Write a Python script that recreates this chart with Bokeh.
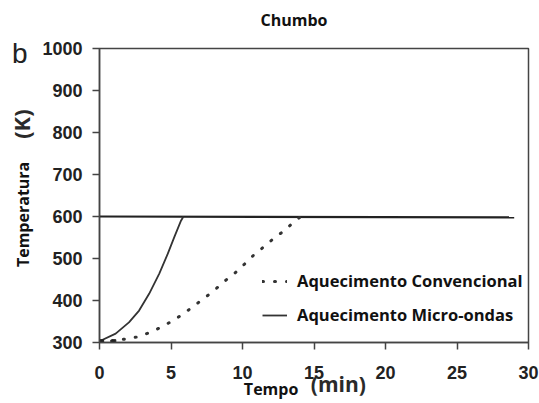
from bokeh.plotting import figure
from bokeh.models import Legend, LegendItem, FixedTicker, Range1d, LinearAxis
from bokeh.embed import file_html
from bokeh.resources import INLINE

# ---- data -------------------------------------------------------------
title = "Chumbo"
panel_tag = "b"
x_label = ["Tempo", "(min)"]
y_label = ["Temperatura", "(K)"]
series_names = ["Aquecimento Convencional", "Aquecimento Micro-ondas"]
x_ticks = [0, 5, 10, 15, 20, 25, 30]
y_ticks = [300, 400, 500, 600, 700, 800, 900, 1000]

micro_t = [0, 1.13, 2.06, 2.77, 3.47, 4.18, 4.77, 5.23, 5.70, 5.87]
micro_T = [303, 321, 348, 376, 416, 464, 511, 551, 590, 600]

hold_t = [0, 29]
hold_T = [600, 598]

conv_t = [0, 1.0, 1.95, 2.77, 3.59, 4.41, 5.23, 5.94, 6.64, 7.35, 8.05, 8.75,
          9.46, 10.12, 10.75, 11.46, 12.16, 12.87, 13.57, 14.15]
conv_T = [302, 304, 309, 314, 325, 338, 354, 370, 388, 406, 425, 446,
          465, 486, 507, 527, 547, 565, 586, 602]

start_t = [0.15, 1.0]
start_T = [302, 302]

# positions (data units) where the outer texts are centred
title_x = 13.6
tag_y = 988
xlab_pos = [12.0, 16.7]
ylab_pos = [605, 820]

# ---- figure -----------------------------------------------------------
p = figure(width=539, height=403, output_backend="svg", toolbar_location=None,
           x_range=Range1d(0, 30), y_range=Range1d(300, 1000),
           min_border_left=99, min_border_right=11, min_border_top=48, min_border_bottom=61)
p.title.visible = False
p.xgrid.visible = False
p.ygrid.visible = False
p.outline_line_color = "#444444"
p.outline_line_width = 1.5

for ax in (p.xaxis[0], p.yaxis[0]):
    ax.axis_line_color = "#444444"
    ax.axis_line_width = 1.5
    ax.major_tick_line_color = "#444444"
    ax.major_tick_line_width = 1.5
    ax.major_tick_out = 7
    ax.major_tick_in = 0
    ax.minor_tick_line_color = None
    ax.major_label_text_font = "Liberation Sans"
    ax.major_label_text_font_style = "bold"
    ax.major_label_text_font_size = "18px"
    ax.major_label_text_color = "#222222"
p.xaxis.ticker = FixedTicker(ticks=x_ticks)
p.yaxis.ticker = FixedTicker(ticks=y_ticks)
p.xaxis.major_label_standoff = 16
p.yaxis.major_label_standoff = 10


def text_axis(tick, text, size, font, color, standoff, style="bold", orient="horizontal"):
    return LinearAxis(ticker=FixedTicker(ticks=[tick]), major_label_overrides={tick: text},
                      axis_line_color=None, major_tick_line_color=None,
                      minor_tick_line_color=None, major_tick_out=0, major_tick_in=0,
                      minor_tick_out=0, minor_tick_in=0,
                      major_label_standoff=standoff, major_label_orientation=orient,
                      major_label_text_font=font, major_label_text_font_size=size,
                      major_label_text_font_style=style, major_label_text_color=color)


p.add_layout(text_axis(ylab_pos[1], y_label[1], "22px", "Open Sans", "#2a2a2a", 3,
                       orient="vertical"), "left")
p.add_layout(text_axis(ylab_pos[0], y_label[0], "16px", "Open Sans", "#111111", -31,
                       orient="vertical"), "left")
p.add_layout(text_axis(tag_y, panel_tag, "28px", "Liberation Sans", "#222222", -24,
                       style="normal"), "left")
p.add_layout(text_axis(xlab_pos[1], x_label[1], "21px", "Open Sans", "#2a2a2a", -12), "below")
p.add_layout(text_axis(xlab_pos[0], x_label[0], "16px", "Open Sans", "#111111", -23), "below")
p.add_layout(text_axis(title_x, title, "16px", "Open Sans", "#111111", 18), "above")

# ---- series -----------------------------------------------------------
p.line(hold_t, hold_T, line_color="#222222", line_width=2.2)
r_micro = p.line(micro_t, micro_T, line_color="#333333", line_width=1.8)
r_conv = p.line(conv_t, conv_T, line_color="#333333", line_width=3,
                line_dash="1 11", line_cap="round")
p.scatter(start_t, start_T, marker="square", size=4, color="#222222")

legend = Legend(items=[LegendItem(label=series_names[0], renderers=[r_conv]),
                       LegendItem(label=series_names[1], renderers=[r_micro])],
                location=(163, 16), padding=0, margin=0, spacing=11,
                glyph_width=25, glyph_height=22, label_height=22, label_standoff=10,
                border_line_color=None, background_fill_alpha=0,
                label_text_font="Open Sans", label_text_font_style="bold",
                label_text_font_size="16.5px", label_text_color="#111111")
p.add_layout(legend)

open("out.html", "w").write(file_html(p, INLINE))
